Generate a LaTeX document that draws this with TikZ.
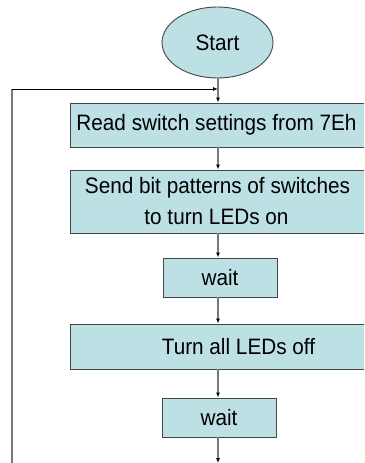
\documentclass[tikz,border=0pt]{standalone}
\usepackage{fontspec}
\setmainfont{Liberation Sans}[FakeStretch=0.93]
\usetikzlibrary{shapes.geometric,arrows.meta}
\definecolor{boxfill}{RGB}{188,224,228}
\definecolor{boxline}{RGB}{70,70,70}
\definecolor{flowgray}{RGB}{120,120,120}
\begin{document}
\begin{tikzpicture}[x=1pt,y=-1pt,
  every node/.style={font=\fontsize{22.3}{31}\selectfont, inner sep=0pt},
  procbox/.style={draw=boxline, line width=0.9pt, fill=boxfill, rectangle, align=center},
  termbox/.style={draw=boxline, line width=0.9pt, fill=boxfill, ellipse},
  arr/.style={draw=flowgray, line width=1.3pt, -{Latex[length=5pt,width=4pt,color=black]}},
  loopline/.style={draw=flowgray, line width=1.6pt},
  looparr/.style={draw=black, line width=1pt, -{Latex[length=5pt,width=4pt]}}
]
\clip (0,0) rectangle (364,463);
\fill[white] (0,0) rectangle (364,463);
\node[termbox, minimum width=111pt, minimum height=71pt] (start) at (217.5,42.5) {Start};
\node[procbox, minimum width=303pt, minimum height=44pt] (read) at (221.5,125) {\raisebox{2pt}{\hspace*{-10pt}Read switch settings from 7Eh}};
\node[procbox, minimum width=303pt, minimum height=63pt] (send) at (221.5,201.5) {\hspace*{-8pt}Send bit patterns of switches\\\hspace*{-10pt}to turn LEDs on};
\node[procbox, minimum width=114pt, minimum height=39pt] (wait1) at (220,277.5) {wait};
\node[procbox, minimum width=303pt, minimum height=45pt] (turn) at (221.5,346.5) {\hspace*{34pt}Turn all LEDs off};
\node[procbox, minimum width=114pt, minimum height=39pt] (wait2) at (219,417.5) {wait};
\coordinate (join) at (218,89);
\coordinate (loopbot) at (12,464);
\coordinate (loopcorner) at (12,89);
\coordinate (endpt) at (218,463);
\draw[arr] (start.south -| join) -- (read.north -| join);
\draw[arr] (read.south -| join) -- (send.north -| join);
\draw[arr] (send.south -| join) -- (wait1.north -| join);
\draw[arr] (wait1.south -| join) -- (turn.north -| join);
\draw[arr] (turn.south -| join) -- (wait2.north -| join);
\draw[arr] (wait2.south -| join) -- (endpt);
\draw[loopline] (loopbot) -- (loopcorner);
\draw[looparr] (loopcorner) -- (join);
\end{tikzpicture}
\end{document}
